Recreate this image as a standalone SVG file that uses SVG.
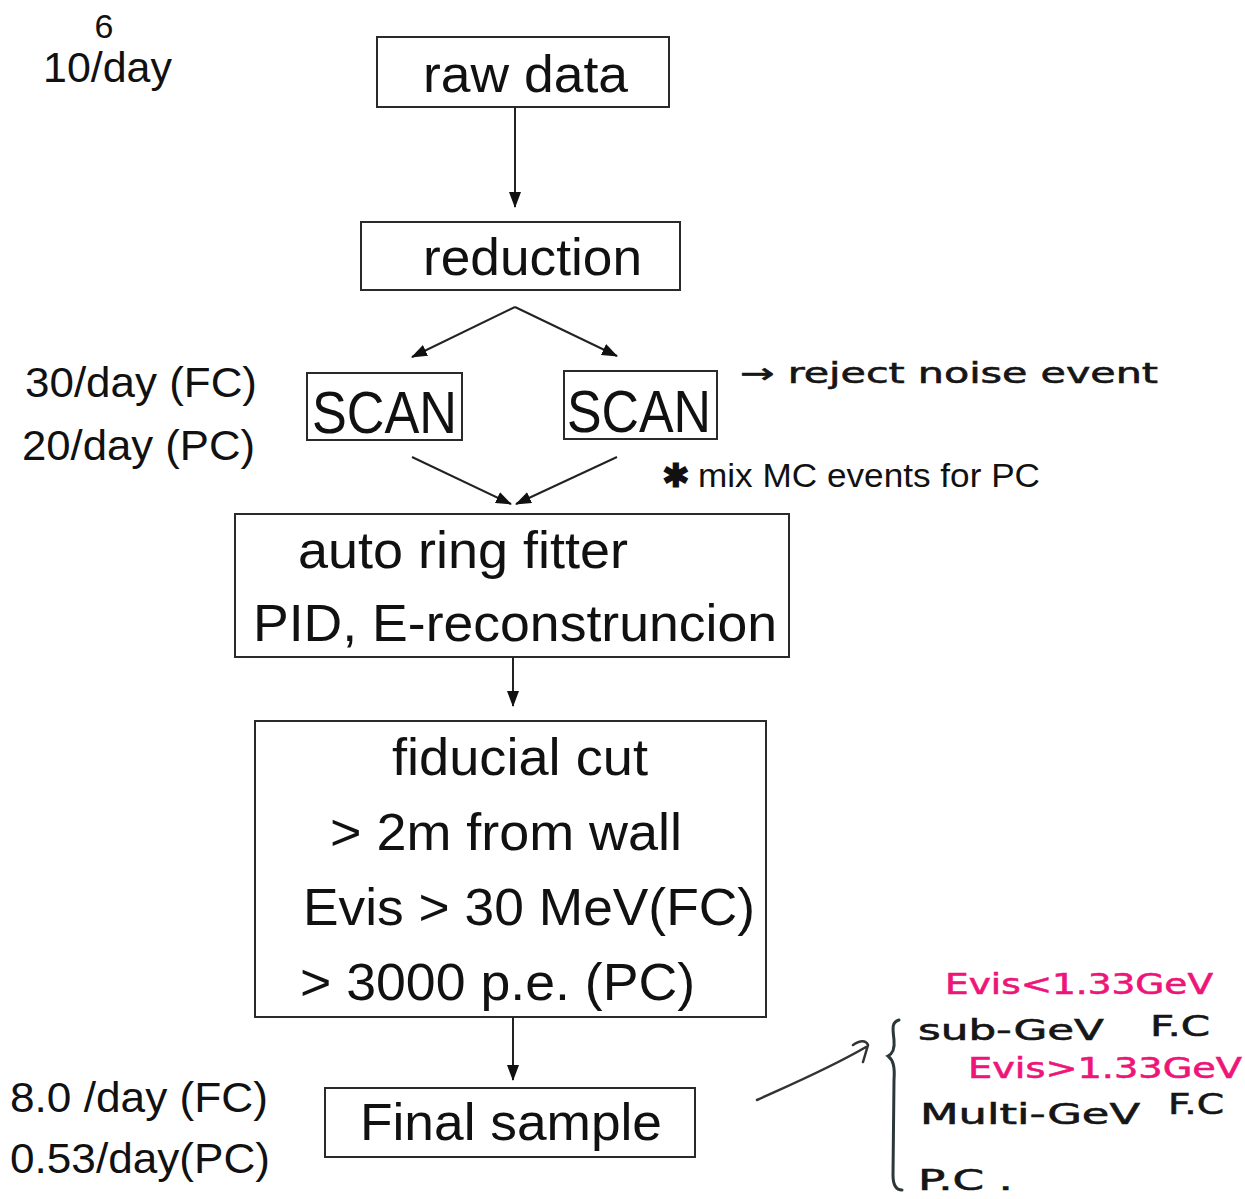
<svg xmlns="http://www.w3.org/2000/svg" width="1245" height="1199" viewBox="0 0 1245 1199">
  <style>
    .box { fill: #ffffff; stroke: #2a2a2a; stroke-width: 2; }
    .t { font-family: "Liberation Sans", Arial, sans-serif; fill: #111111; }
    .big { font-size: 52px; }
    .scan { font-size: 60px; }
    .side { font-size: 42px; }
    .note { font-size: 33px; }
    .hand { font-family: "DejaVu Sans", sans-serif; font-size: 28px; fill: #161616; stroke: #161616; stroke-width: 0.6; }
    .pink { fill: #ee1579; stroke: #ee1579; }
    .conn { fill: none; stroke: #222222; stroke-width: 2; }
  </style>
  <defs>
    <marker id="head" markerWidth="16" markerHeight="12" refX="15" refY="6" orient="auto" markerUnits="userSpaceOnUse">
      <path d="M0,0 L16,6 L0,12 Z" fill="#111111"/>
    </marker>
  </defs>
  <rect width="1245" height="1199" fill="#ffffff"/>

  <!-- rate labels on the left -->
  <g id="rate-raw">
    <text class="t" x="104" y="38" font-size="34" text-anchor="middle">6</text>
    <text class="t side" x="43" y="82" textLength="129" lengthAdjust="spacingAndGlyphs">10/day</text>
  </g>
  <g id="rate-scan">
    <text class="t side" x="25" y="397" textLength="232" lengthAdjust="spacingAndGlyphs">30/day (FC)</text>
    <text class="t side" x="22" y="460" textLength="233" lengthAdjust="spacingAndGlyphs">20/day (PC)</text>
  </g>
  <g id="rate-final">
    <text class="t side" x="10" y="1112" textLength="258" lengthAdjust="spacingAndGlyphs">8.0 /day (FC)</text>
    <text class="t side" x="10" y="1173" textLength="260" lengthAdjust="spacingAndGlyphs">0.53/day(PC)</text>
  </g>

  <!-- process boxes -->
  <g id="raw-data">
    <rect class="box" x="377" y="37" width="292" height="70"/>
    <text class="t big" x="423" y="92" textLength="205" lengthAdjust="spacingAndGlyphs">raw data</text>
  </g>
  <g id="reduction">
    <rect class="box" x="361" y="222" width="319" height="68"/>
    <text class="t big" x="423" y="275" textLength="219" lengthAdjust="spacingAndGlyphs">reduction</text>
  </g>
  <g id="scan-left">
    <rect class="box" x="307" y="373" width="155" height="67"/>
    <text class="t scan" x="312" y="433" textLength="145" lengthAdjust="spacingAndGlyphs">SCAN</text>
  </g>
  <g id="scan-right">
    <rect class="box" x="564" y="371" width="153" height="68"/>
    <text class="t scan" x="567" y="432" textLength="144" lengthAdjust="spacingAndGlyphs">SCAN</text>
  </g>
  <g id="ring-fitter">
    <rect class="box" x="235" y="514" width="554" height="143"/>
    <text class="t big" x="298" y="568" textLength="330" lengthAdjust="spacingAndGlyphs">auto ring fitter</text>
    <text class="t big" x="253" y="641" textLength="524" lengthAdjust="spacingAndGlyphs">PID, E-reconstruncion</text>
  </g>
  <g id="fiducial-cut">
    <rect class="box" x="255" y="721" width="511" height="296"/>
    <text class="t big" x="392" y="775" textLength="256" lengthAdjust="spacingAndGlyphs">fiducial cut</text>
    <text class="t big" x="330" y="850" textLength="352" lengthAdjust="spacingAndGlyphs">&gt; 2m from wall</text>
    <text class="t big" x="303" y="925" textLength="452" lengthAdjust="spacingAndGlyphs">Evis &gt; 30 MeV(FC)</text>
    <text class="t big" x="300" y="1000" textLength="395" lengthAdjust="spacingAndGlyphs">&gt; 3000 p.e. (PC)</text>
  </g>
  <g id="final-sample">
    <rect class="box" x="325" y="1088" width="370" height="69"/>
    <text class="t big" x="360" y="1140" textLength="302" lengthAdjust="spacingAndGlyphs">Final sample</text>
  </g>

  <!-- side notes -->
  <g id="note-scan">
    <text class="hand" x="740" y="383" font-size="34" textLength="418" lengthAdjust="spacingAndGlyphs">→ reject noise event</text>
  </g>
  <g id="note-mc">
    <text class="t note" x="662" y="487" font-weight="bold">✱</text>
    <text class="t note" x="698" y="487" textLength="342" lengthAdjust="spacingAndGlyphs">mix MC events for PC</text>
  </g>
  <g id="note-samples">
    <path d="M899,1020 C891,1022 893,1030 894,1040 C895,1050 892,1054 888,1056 C893,1060 895,1066 894,1080 L893,1175 C893,1185 896,1190 902,1190" fill="none" stroke="#2c3838" stroke-width="3" stroke-linecap="round"/>
    <text class="hand pink" x="945" y="994" font-size="30" textLength="268" lengthAdjust="spacingAndGlyphs">Evis&lt;1.33GeV</text>
    <text class="hand" x="918" y="1040" textLength="186" lengthAdjust="spacingAndGlyphs">sub-GeV</text>
    <text class="hand" x="1150" y="1036" textLength="60" lengthAdjust="spacingAndGlyphs">F.C</text>
    <text class="hand pink" x="968" y="1078" textLength="274" lengthAdjust="spacingAndGlyphs">Evis&gt;1.33GeV</text>
    <text class="hand" x="920" y="1124" font-size="30" textLength="220" lengthAdjust="spacingAndGlyphs">Multi-GeV</text>
    <text class="hand" x="1168" y="1114" textLength="56" lengthAdjust="spacingAndGlyphs">F.C</text>
    <text class="hand" x="918" y="1190" font-size="30" textLength="95" lengthAdjust="spacingAndGlyphs">P.C .</text>
  </g>

  <!-- connectors -->
  <g id="connectors">
    <line class="conn" x1="515" y1="107" x2="515" y2="207" marker-end="url(#head)"/>
    <line class="conn" x1="515" y1="307" x2="412" y2="357" marker-end="url(#head)"/>
    <line class="conn" x1="515" y1="307" x2="617" y2="356" marker-end="url(#head)"/>
    <line class="conn" x1="412" y1="457" x2="511" y2="504" marker-end="url(#head)"/>
    <line class="conn" x1="617" y1="457" x2="516" y2="504" marker-end="url(#head)"/>
    <line class="conn" x1="513" y1="657" x2="513" y2="706" marker-end="url(#head)"/>
    <line class="conn" x1="513" y1="1017" x2="513" y2="1080" marker-end="url(#head)"/>
    <path d="M757,1100 C790,1085 830,1068 866,1047 M853,1045 C860,1040 866,1040 868,1045 L863,1062" fill="none" stroke="#333333" stroke-width="2.5" stroke-linecap="round"/>
  </g>
</svg>
